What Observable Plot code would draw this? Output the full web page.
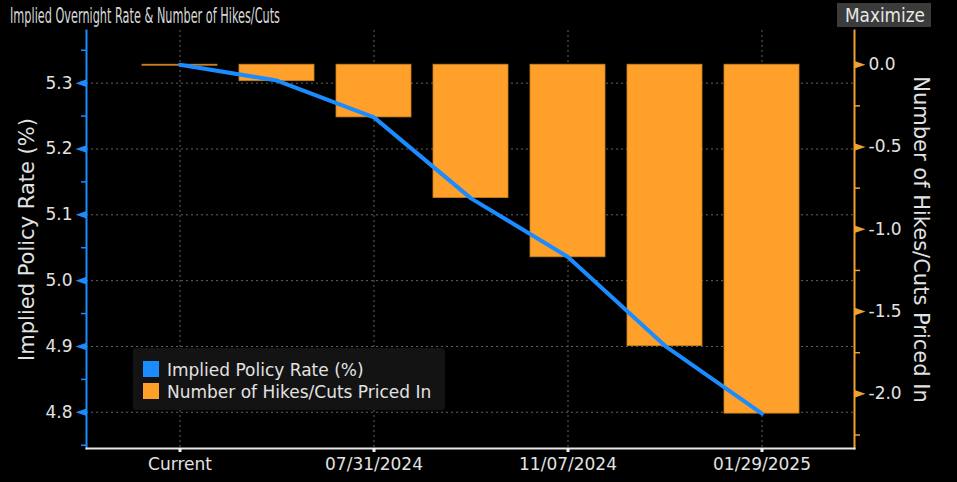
<!DOCTYPE html>
<html>
<head>
<meta charset="utf-8">
<script src="https://cdn.jsdelivr.net/npm/d3@7"></script>
<script src="https://cdn.jsdelivr.net/npm/@observablehq/plot@0.6"></script>
<style>
  html, body { margin: 0; padding: 0; background: #000; }
  #chart { width: 957px; height: 482px; position: relative; overflow: hidden; }
</style>
</head>
<body>
<div id="chart"></div>
<script>
// ---- data ----
const categories = ["Current", "06/12/2024", "07/31/2024", "09/18/2024", "11/07/2024", "12/18/2024", "01/29/2025"];
const impliedRate = [5.328, 5.304, 5.248, 5.125, 5.036, 4.901, 4.798];
const hikesCuts = [-0.006, -0.10, -0.32, -0.81, -1.17, -1.71, -2.12];
const xTickLabels = ["Current", "07/31/2024", "11/07/2024", "01/29/2025"];
const rateTicks = [4.8, 4.9, 5.0, 5.1, 5.2, 5.3];
const rateMinorTicks = [4.75, 4.85, 4.95, 5.05, 5.15, 5.25, 5.35];
const hikeTicks = [0, -0.5, -1.0, -1.5, -2.0];
const hikeMinorTicks = [-0.25, -0.75, -1.25, -1.75, -2.25];
const rateDomain = [4.745, 5.38];
const rateStepPerHike = 0.25;
const titleText = "Implied Overnight Rate & Number of Hikes/Cuts";
const leftLabel = "Implied Policy Rate (%)";
const rightLabel = "Number of Hikes/Cuts Priced In";
const seriesNames = ["Implied Policy Rate (%)", "Number of Hikes/Cuts Priced In"];

// ---- styling ----
const blue = "#1a8cff";
const orange = "#ffa02b";
const orangeEdge = "#c9801f";
const orangeAxis = "#f0a030";
const gridColor = "#626262";
const textColor = "#e2e2e2";
const font = "DejaVu Sans, Verdana, sans-serif";
const narrowFont = "'Liberation Sans Narrow', 'DejaVu Sans Condensed', 'DejaVu Sans', sans-serif";

const toRate = h => impliedRate[0] + rateStepPerHike * h;
const fromRate = r => (r - impliedRate[0]) / rateStepPerHike;
const fmtHike = r => { let v = Math.round(fromRate(r) * 10) / 10; if (Object.is(v, -0)) v = 0; return v.toFixed(1); };

const data = categories.map((c, i) => ({cat: c, rate: impliedRate[i], hikes: hikesCuts[i]}));

const leftTri = {draw(ctx) { ctx.moveTo(0, -3.8); ctx.lineTo(-11, 0); ctx.lineTo(0, 3.8); ctx.closePath(); }};
const rightTri = {draw(ctx) { ctx.moveTo(0, -3.8); ctx.lineTo(11, 0); ctx.lineTo(0, 3.8); ctx.closePath(); }};

const svg = Plot.plot({
  width: 957,
  height: 482,
  marginTop: 30,
  marginBottom: 34,
  marginLeft: 86,
  marginRight: 103,
  style: {background: "#000", color: textColor, fontFamily: font, fontSize: "17px"},
  x: {type: "band", domain: categories, paddingInner: 0.227, paddingOuter: 0.572, align: 0.5},
  y: {domain: rateDomain},
  marks: [
    Plot.ruleY(rateTicks, {y: d => d, stroke: gridColor, strokeDasharray: "2,3"}),
    Plot.ruleX(xTickLabels, {x: d => d, stroke: gridColor, strokeDasharray: "2,3"}),
    Plot.barY(data, {x: "cat", y1: () => toRate(0), y2: d => toRate(d.hikes), fill: orange, stroke: orangeEdge, strokeWidth: 0.8}),
    Plot.line(data, {x: "cat", y: "rate", stroke: blue, strokeWidth: 4, strokeLinejoin: "round", strokeLinecap: "round"}),
    Plot.frame({anchor: "left", stroke: blue, strokeWidth: 2}),
    Plot.frame({anchor: "right", stroke: orangeAxis, strokeWidth: 2}),
    Plot.frame({anchor: "bottom", stroke: "#e8e8e8", strokeWidth: 2}),
    // left axis
    Plot.axisY(rateMinorTicks, {anchor: "left", tickSize: 5, stroke: blue, strokeWidth: 1.5, tickFormat: () => "", label: null}),
    Plot.axisY(rateTicks, {anchor: "left", tickSize: 0, tickPadding: 14, tickFormat: d3.format(".1f"), fill: textColor, fontSize: 17, label: null}),
    Plot.dot(rateTicks, {y: d => d, frameAnchor: "left", symbol: leftTri, fill: blue, stroke: "none"}),
    // right axis
    Plot.axisY(hikeMinorTicks.map(toRate), {anchor: "right", tickSize: 5, stroke: orangeAxis, strokeWidth: 1.5, tickFormat: () => "", label: null}),
    Plot.axisY(hikeTicks.map(toRate), {anchor: "right", tickSize: 0, tickPadding: 14, tickFormat: fmtHike, fill: textColor, fontSize: 17, label: null}),
    Plot.dot(hikeTicks.map(toRate), {y: d => d, frameAnchor: "right", symbol: rightTri, fill: orangeAxis, stroke: "none"}),
    // x axis
    Plot.axisX(xTickLabels, {anchor: "bottom", tickSize: 4, tickPadding: 5, stroke: "#f0f0f0", strokeWidth: 3, fill: textColor, fontSize: 17, label: null}),
    // axis titles
    Plot.text([leftLabel], {text: d => d, frameAnchor: "left", rotate: -90, dx: -59, fontSize: 21, fill: textColor, textAnchor: "middle", lineAnchor: "middle"}),
    Plot.text([rightLabel], {text: d => d, frameAnchor: "right", rotate: 90, dx: 66, fontSize: 21, fill: textColor, textAnchor: "middle", lineAnchor: "middle"})
  ]
});

document.getElementById("chart").appendChild(svg);

const s = d3.select(svg);
// title
s.append("text")
  .attr("x", 10).attr("y", 23)
  .attr("text-anchor", "start")
  .style("font-family", narrowFont)
  .style("font-size", "21px")
  .attr("fill", "#d8d8d8")
  .attr("textLength", 270).attr("lengthAdjust", "spacingAndGlyphs")
  .text(titleText);
// maximize button
s.append("rect").attr("x", 837).attr("y", 3).attr("width", 94).attr("height", 24).attr("fill", "#3b3b3b");
s.append("text")
  .attr("x", 845).attr("y", 21.5)
  .attr("text-anchor", "start")
  .style("font-family", narrowFont)
  .style("font-size", "20px")
  .attr("fill", "#e8e8e8")
  .attr("textLength", 80).attr("lengthAdjust", "spacingAndGlyphs")
  .text("Maximize");
// legend
const lg = s.append("g").style("font-family", font).style("font-size", "17px").attr("text-anchor", "start");
lg.append("rect").attr("x", 133).attr("y", 348).attr("width", 312).attr("height", 62).attr("rx", 3).attr("fill", "#131313");
[blue, orange].forEach((c, i) => {
  lg.append("rect").attr("x", 143).attr("y", 361 + i * 22).attr("width", 16).attr("height", 16).attr("fill", c);
  lg.append("text").attr("x", 167).attr("y", 375.5 + i * 22).attr("text-anchor", "start").attr("fill", textColor).text(seriesNames[i]);
});
</script>
</body>
</html>
